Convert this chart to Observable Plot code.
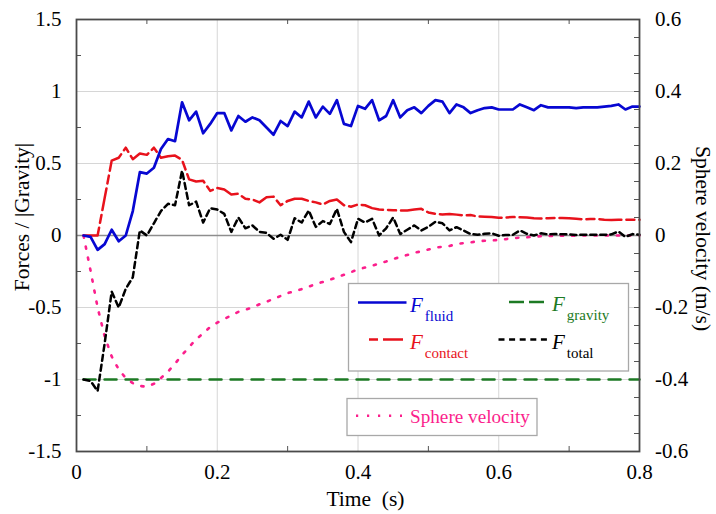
<!DOCTYPE html>
<html>
<head>
<meta charset="utf-8">
<script src="https://cdn.jsdelivr.net/npm/d3@7"></script>
<script src="https://cdn.jsdelivr.net/npm/@observablehq/plot@0.6"></script>
<style>
  html, body { margin: 0; padding: 0; background: #fff; }
  #chart svg { display: block; }
</style>
</head>
<body>
<div id="chart"></div>
<script>
// Time samples (s)
const time = [
  0.01,0.02,0.03,0.04,0.05,0.06,0.07,0.08,0.09,0.10,
  0.11,0.12,0.13,0.14,0.15,0.16,0.17,0.18,0.19,0.20,
  0.21,0.22,0.23,0.24,0.25,0.26,0.27,0.28,0.29,0.30,
  0.31,0.32,0.33,0.34,0.35,0.36,0.37,0.38,0.39,0.40,
  0.41,0.42,0.43,0.44,0.45,0.46,0.47,0.48,0.49,0.50,
  0.51,0.52,0.53,0.54,0.55,0.56,0.57,0.58,0.59,0.60,
  0.61,0.62,0.63,0.64,0.65,0.66,0.67,0.68,0.69,0.70,
  0.71,0.72,0.73,0.74,0.75,0.76,0.77,0.78,0.79,0.80
];

// Forces normalised by |gravity|
const fluid = [
  0.00,-0.01,-0.10,-0.06,0.04,-0.04,0.00,0.17,0.44,0.43,
  0.47,0.60,0.67,0.655,0.925,0.80,0.86,0.71,0.775,0.85,
  0.85,0.73,0.83,0.79,0.82,0.80,0.75,0.70,0.795,0.76,
  0.86,0.82,0.93,0.82,0.895,0.845,0.94,0.775,0.76,0.90,
  0.88,0.94,0.80,0.83,0.94,0.82,0.87,0.89,0.85,0.90,
  0.94,0.93,0.85,0.91,0.89,0.85,0.87,0.885,0.89,0.875,
  0.875,0.875,0.91,0.89,0.87,0.905,0.89,0.89,0.89,0.89,
  0.885,0.89,0.89,0.89,0.895,0.90,0.91,0.875,0.895,0.895
];
const contact = [
  0.00,0.00,0.00,0.26,0.52,0.54,0.61,0.53,0.57,0.56,
  0.61,0.54,0.55,0.555,0.525,0.39,0.375,0.38,0.31,0.33,
  0.32,0.285,0.29,0.255,0.25,0.23,0.265,0.27,0.21,0.24,
  0.255,0.255,0.24,0.23,0.215,0.24,0.25,0.21,0.20,0.215,
  0.21,0.19,0.18,0.178,0.175,0.174,0.174,0.18,0.185,0.16,
  0.15,0.146,0.15,0.145,0.14,0.142,0.132,0.13,0.128,0.123,
  0.125,0.128,0.127,0.125,0.12,0.118,0.12,0.122,0.121,0.12,
  0.116,0.112,0.115,0.115,0.11,0.108,0.109,0.11,0.11,0.11
];
const gravity = [
  -1,-1,-1,-1,-1,-1,-1,-1,-1,-1,
  -1,-1,-1,-1,-1,-1,-1,-1,-1,-1,
  -1,-1,-1,-1,-1,-1,-1,-1,-1,-1,
  -1,-1,-1,-1,-1,-1,-1,-1,-1,-1,
  -1,-1,-1,-1,-1,-1,-1,-1,-1,-1,
  -1,-1,-1,-1,-1,-1,-1,-1,-1,-1,
  -1,-1,-1,-1,-1,-1,-1,-1,-1,-1,
  -1,-1,-1,-1,-1,-1,-1,-1,-1,-1
];
const total = [
  -1.00,-1.01,-1.08,-0.75,-0.39,-0.50,-0.37,-0.29,0.035,0.00,
  0.085,0.17,0.22,0.21,0.45,0.21,0.235,0.09,0.19,0.18,
  0.15,0.025,0.125,0.05,0.07,0.025,0.018,-0.023,0.005,-0.03,
  0.12,0.09,0.174,0.06,0.10,0.08,0.185,0.025,-0.046,0.116,
  0.09,0.116,0.00,0.05,0.125,0.01,0.04,0.07,0.035,0.06,
  0.095,0.085,0.035,0.058,0.035,0.01,0.005,0.012,0.015,-0.002,
  0.003,0.005,0.035,0.012,0.00,0.015,0.008,0.01,0.008,0.008,
  0.004,0.005,0.005,0.005,0.005,0.008,0.028,-0.01,0.01,0.005
];

// Sphere velocity (m/s), right-hand axis
const velocity = [
  0,-0.098,-0.2,-0.28,-0.336,-0.372,-0.396,-0.41,-0.418,-0.42,
  -0.412,-0.396,-0.378,-0.356,-0.332,-0.31,-0.288,-0.272,-0.254,-0.242,
  -0.232,-0.222,-0.212,-0.206,-0.2,-0.191,-0.184,-0.176,-0.168,-0.16,
  -0.155,-0.149,-0.142,-0.135,-0.129,-0.123,-0.116,-0.109,-0.102,-0.094,
  -0.089,-0.084,-0.078,-0.072,-0.065,-0.06,-0.054,-0.048,-0.044,-0.039,
  -0.034,-0.031,-0.029,-0.024,-0.021,-0.019,-0.016,-0.0145,-0.014,-0.012,
  -0.01,-0.0075,-0.006,-0.005,-0.003,-0.002,-0.0016,-0.001,-0.0008,-0.0006,
  -0.0004,-0.0002,0,0,0,0,0,0,0,0
];

// Tick values
const timeTicks = [0, 0.2, 0.4, 0.6, 0.8];
const timeMinor = [0.1, 0.3, 0.5, 0.7];
const forceTicks = [-1.5, -1, -0.5, 0, 0.5, 1, 1.5];
const forceMinor = [-1.25, -0.75, -0.25, 0.25, 0.75, 1.25];
const velTicks = [-0.6, -0.4, -0.2, 0, 0.2, 0.4, 0.6];
const velMinor = [-0.55,-0.5,-0.45,-0.4,-0.35,-0.3,-0.25,-0.2,-0.15,-0.1,-0.05,
                  0.05,0.1,0.15,0.2,0.25,0.3,0.35,0.4,0.45,0.5,0.55];

// Colours
const C = {fluid: "#0707d2", contact: "#e8121c", gravity: "#1d7a24", total: "#000000", vel: "#fb1f8c"};

const W = 716, H = 514;
const M = {left: 76, right: 77, top: 19, bottom: 63};
const PW = W - M.left - M.right, PH = H - M.top - M.bottom;
const K = 2.5; // force units per m/s (right axis shares the y scale)
const serif = "'Liberation Serif', 'Times New Roman', serif";

const rows = time.map((t, i) => ({
  t, fluid: fluid[i], contact: contact[i], gravity: gravity[i], total: total[i], vel: velocity[i]
}));

const plot = Plot.plot({
  width: W, height: H,
  marginLeft: M.left, marginRight: M.right, marginTop: M.top, marginBottom: M.bottom,
  x: {domain: [0, 0.8]},
  y: {domain: [-1.5, 1.5]},
  style: {fontFamily: serif, fontSize: "21px", color: "#000", background: "#fff", overflow: "visible"},
  marks: [
    Plot.gridX([0.2, 0.4, 0.6], {stroke: "#d6d6d6", strokeOpacity: 1, strokeWidth: 1}),
    Plot.gridY([-1, -0.5, 0.5, 1], {stroke: "#d6d6d6", strokeOpacity: 1, strokeWidth: 1}),
    Plot.ruleY([0], {stroke: "#8e8e8e", strokeWidth: 1.6}),

    // inward minor ticks on all four sides
    Plot.tickY(forceMinor, {y: d => d, insetRight: PW - 5, stroke: "#555", strokeWidth: 1}),
    Plot.tickY(velMinor, {y: d => d * K, insetLeft: PW - 5, stroke: "#555", strokeWidth: 1}),
    Plot.tickX(timeMinor, {x: d => d, insetTop: PH - 5, stroke: "#555", strokeWidth: 1}),
    Plot.tickX(timeMinor, {x: d => d, insetBottom: PH - 5, stroke: "#555", strokeWidth: 1}),

    Plot.line(rows, {x: "t", y: "gravity", stroke: C.gravity, strokeWidth: 2.5, strokeDasharray: "12,9"}),
    Plot.line(rows, {x: "t", y: d => d.vel * K, stroke: C.vel, strokeWidth: 2.6, strokeDasharray: "2.2,9"}),
    Plot.line(rows, {x: "t", y: "total", stroke: C.total, strokeWidth: 2.5, strokeDasharray: "6,4"}),
    Plot.line(rows, {x: "t", y: "contact", stroke: C.contact, strokeWidth: 2.5, strokeDasharray: "22,5,8,5"}),
    Plot.line(rows, {x: "t", y: "fluid", stroke: C.fluid, strokeWidth: 2.7}),

    Plot.frame({stroke: "#4a4a4a", strokeWidth: 1.8}),

    Plot.axisX(timeTicks, {anchor: "bottom", tickSize: 0, tickPadding: 13, fontFamily: serif,
      tickFormat: d => String(d), label: null}),
    Plot.axisY(forceTicks, {anchor: "left", tickSize: 0, tickPadding: 15, fontFamily: serif,
      tickFormat: d => String(d), label: null}),
    Plot.axisY(velTicks.map(v => v * K), {anchor: "right", tickSize: 0, tickPadding: 15.5, fontFamily: serif,
      tickFormat: d => String(Math.round(d / K * 10) / 10), label: null})
  ]
});

document.getElementById("chart").appendChild(plot);

// Axis titles and legends
const svg = d3.select(plot);
const g = svg.append("g").attr("font-family", serif).attr("fill", "#000").attr("text-anchor", "start");

g.append("text")
  .attr("transform", "translate(29,217) rotate(-90)")
  .attr("text-anchor", "middle").attr("font-size", 21.5)
  .text("Forces / |Gravity|");

g.append("text")
  .attr("transform", "translate(696,238.5) rotate(90)")
  .attr("text-anchor", "middle").attr("font-size", 21.5)
  .text("Sphere velocity (m/s)");

g.append("text")
  .attr("x", 365.5).attr("y", 506)
  .attr("text-anchor", "middle").attr("font-size", 21.5)
  .text("Time\u00a0\u00a0(s)");

// Force legend
g.append("rect").attr("x", 348.5).attr("y", 283.5).attr("width", 280).attr("height", 87.5)
  .attr("fill", "#fff").attr("stroke", "#a8a8a8").attr("stroke-width", 1.3);

const entries = [
  {key: "fluid", sub: "fluid", x1: 358, x2: 406.5, y: 302.5, tx: 410, dash: null},
  {key: "contact", sub: "contact", x1: 369, x2: 403.5, y: 339.5, tx: 410, dash: "9,5,20"},
  {key: "gravity", sub: "gravity", x1: 509, x2: 544.5, y: 302, tx: 552, dash: "15,5"},
  {key: "total", sub: "total", x1: 498.5, x2: 547.5, y: 339.5, tx: 552, dash: "6,4.6"}
];
for (const e of entries) {
  g.append("line").attr("x1", e.x1).attr("x2", e.x2).attr("y1", e.y).attr("y2", e.y)
    .attr("stroke", C[e.key]).attr("stroke-width", 2.4)
    .attr("stroke-dasharray", e.dash);
  const t = g.append("text").attr("x", e.tx).attr("y", e.y + 9).attr("fill", C[e.key])
    .attr("text-anchor", "start");
  t.append("tspan").attr("font-style", "italic").attr("font-size", 21).text("F");
  t.append("tspan").attr("font-size", 15).attr("dx", 2).attr("dy", 9).text(e.sub);
}

// Velocity legend
g.append("rect").attr("x", 347).attr("y", 398.5).attr("width", 190).attr("height", 37)
  .attr("fill", "#fff").attr("stroke", "#a8a8a8").attr("stroke-width", 1.3);
g.append("line").attr("x1", 356).attr("x2", 402).attr("y1", 415.7).attr("y2", 415.7)
  .attr("stroke", C.vel).attr("stroke-width", 2.6).attr("stroke-dasharray", "2.2,8.8");
g.append("text").attr("x", 410).attr("y", 423).attr("font-size", 19.2).attr("fill", C.vel)
  .attr("text-anchor", "start")
  .text("Sphere velocity");
</script>
</body>
</html>
